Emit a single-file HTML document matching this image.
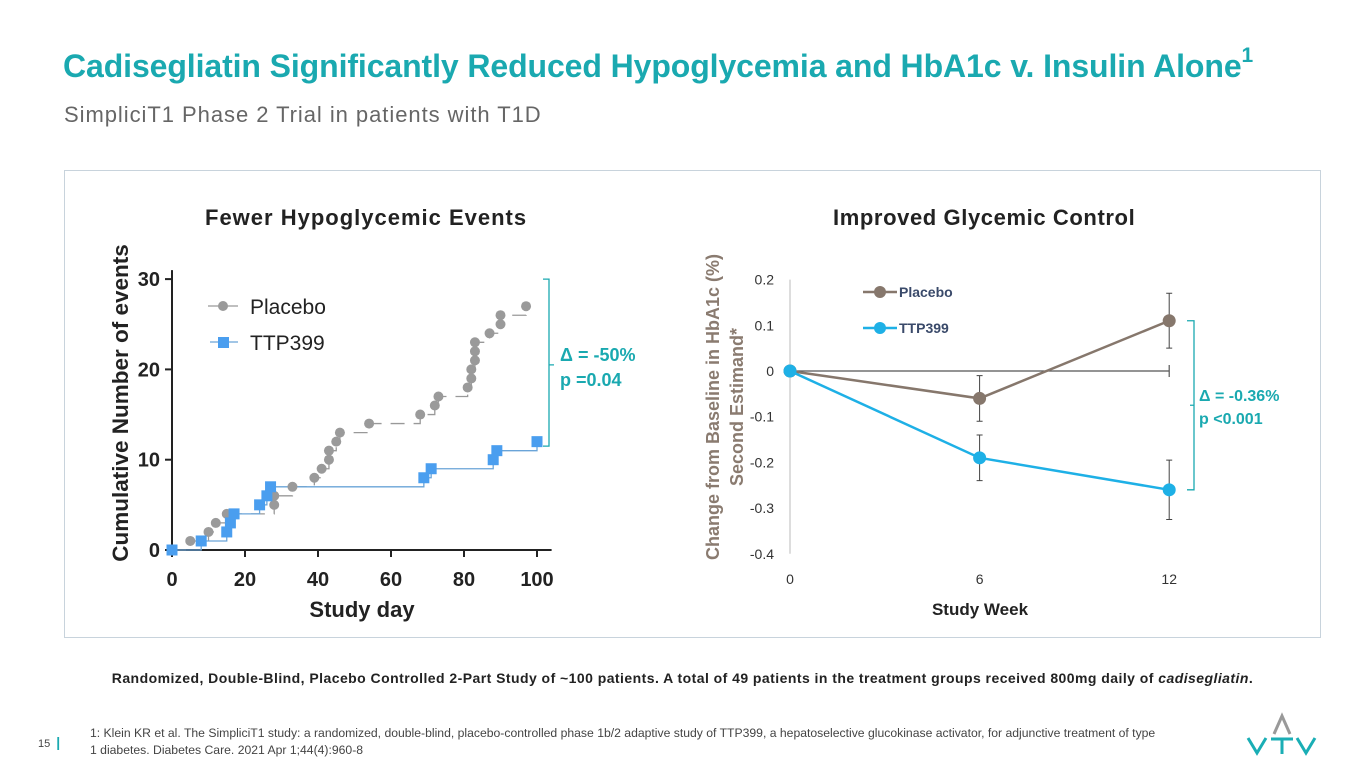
<!DOCTYPE html>
<html><head><meta charset="utf-8"><style>
body{margin:0;width:1365px;height:768px;background:#fff;font-family:"Liberation Sans",sans-serif;position:relative;overflow:hidden}
.abs{position:absolute;white-space:nowrap}
</style></head><body>
<div class="abs" style="left:63px;top:48px;font-size:32px;font-weight:bold;color:#1aa9b0;letter-spacing:-0.1px">Cadisegliatin Significantly Reduced Hypoglycemia and HbA1c v. Insulin Alone<sup style="font-size:21px;position:relative;top:-4px;vertical-align:top">1</sup></div>
<div class="abs" style="left:64px;top:102px;font-size:22px;letter-spacing:0.95px;color:#666">SimpliciT1 Phase 2 Trial in patients with T1D</div>
<div class="abs" style="left:64px;top:170px;width:1255px;height:466px;border:1px solid #c8d3dc"></div>
<div class="abs" style="left:205px;top:205px;font-size:22px;letter-spacing:1px;font-weight:bold;color:#222">Fewer Hypoglycemic Events</div>
<div class="abs" style="left:833px;top:205px;font-size:22px;letter-spacing:0.6px;font-weight:bold;color:#222">Improved Glycemic Control</div>

<svg class="abs" style="left:0;top:0" width="1365" height="768">
<g id="left"></g><g id="right"></g>
</svg>

<div class="abs" style="left:0;width:1365px;text-align:center;top:670px;font-size:14px;letter-spacing:0.45px;font-weight:bold;color:#222">Randomized, Double-Blind, Placebo Controlled 2-Part Study of ~100 patients. A total of 49 patients in the treatment groups received 800mg daily of <i>cadisegliatin</i>.</div>
<div class="abs" style="left:38px;top:734px;font-size:11px;color:#444">15 <span style="color:#1aa9b0;font-weight:bold;font-size:14px;margin-left:3px">|</span></div>
<div class="abs" style="left:90px;top:725px;font-size:12.2px;line-height:17px;color:#444;white-space:normal;width:1120px">1: Klein KR et al. The SimpliciT1 study: a randomized, double-blind, placebo-controlled phase 1b/2 adaptive study of TTP399, a hepatoselective glucokinase activator, for adjunctive treatment of type<br>1 diabetes. Diabetes Care. 2021 Apr 1;44(4):960-8</div>
<svg class="abs" style="left:1244px;top:712px" width="76" height="44">
<path d="M30 22 L38 4 L46 22" fill="none" stroke="#999" stroke-width="3"/>
<path d="M4 26 L13 41 L22 26" fill="none" stroke="#1aaeb5" stroke-width="3"/>
<path d="M27 27 H49 M38 27 V42" fill="none" stroke="#1aaeb5" stroke-width="3"/>
<path d="M53 26 L62 41 L71 26" fill="none" stroke="#1aaeb5" stroke-width="3"/>
</svg>

<script>
const plDays=[0,5,10,12,15,28,28,33,39,41,43,43,45,46,54,68,72,73,81,82,82,83,83,83,87,90,90,97];
const plCounts=[0,1,2,3,4,5,6,7,8,9,10,11,12,13,14,15,16,17,18,19,20,21,22,23,24,25,26,27];
const ttDays=[0,8,15,16,17,24,26,27,69,71,88,89,100];
const ttCounts=[0,1,2,3,4,5,6,7,8,9,10,11,12];
const xTicks=[0,20,40,60,80,100];
const yTicks=[0,10,20,30];
const weeks=[0,6,12];
const hbPlacebo=[0,-0.06,0.11];
const hbPlaceboErr=[0,0.05,0.06];
const hbTTP=[0,-0.19,-0.26];
const hbTTPErr=[0,0.05,0.065];
const hbTicks=[0.2,0.1,0,-0.1,-0.2,-0.3,-0.4];
const NS="http://www.w3.org/2000/svg";
function mk(p,t,a,txt){const e=document.createElementNS(NS,t);for(const k in a)e.setAttribute(k,a[k]);if(txt!=null)e.textContent=txt;p.appendChild(e);return e;}
// left chart
const L=document.getElementById('left');
const lx=d=>172+d*3.65, ly=v=>550-v*9.03;
let e=mk(L,'path',{d:`M${lx(0)} ${ly(31)} V550 H${lx(104)}`,stroke:'#222','stroke-width':2,fill:'none'});

xTicks.forEach(t=>{mk(L,'line',{x1:lx(t),x2:lx(t),y1:550,y2:557,stroke:'#222','stroke-width':2});
 const s=mk(L,'text',{x:lx(t),y:586,'text-anchor':'middle','font-size':20,'font-weight':'bold',fill:'#222'},t);
 });
yTicks.forEach(t=>{mk(L,'line',{x1:165,x2:172,y1:ly(t),y2:ly(t),stroke:'#222','stroke-width':2});
 const s=mk(L,'text',{x:160,y:ly(t)+7,'text-anchor':'end','font-size':20,'font-weight':'bold',fill:'#222'},t);
 });
e=mk(L,'text',{x:362,y:617,'text-anchor':'middle','font-size':22,'font-weight':'bold',fill:'#222'},'Study day');

e=mk(L,'text',{x:0,y:0,transform:'translate(128,403) rotate(-90)','text-anchor':'middle','font-size':22.5,'font-weight':'bold',fill:'#222'},'Cumulative Number of events');

function stepPath(ds,cs){let d=`M${lx(ds[0])} ${ly(cs[0])}`;for(let i=1;i<ds.length;i++){d+=` H${lx(ds[i])} V${ly(cs[i])}`;}return d;}
e=mk(L,'path',{d:stepPath(plDays,plCounts),stroke:'#999','stroke-width':1.3,fill:'none','stroke-dasharray':'14 9'});

e=mk(L,'path',{d:stepPath(ttDays,ttCounts),stroke:'#6aa4d8','stroke-width':1.3,fill:'none'});

plDays.forEach((d,i)=>{if(i==0)return;const c=mk(L,'circle',{cx:lx(d),cy:ly(plCounts[i]),r:5,fill:'#9a9a9a'});
 });
ttDays.forEach((d,i)=>{const r=mk(L,'rect',{x:lx(d)-5.5,y:ly(ttCounts[i])-5.5,width:11,height:11,fill:'#4a9eef'});
 });
// legend
mk(L,'line',{x1:208,x2:238,y1:306,y2:306,stroke:'#999','stroke-width':1.3});mk(L,'circle',{cx:223,cy:306,r:5,fill:'#9a9a9a'});
e=mk(L,'text',{x:250,y:314,'font-size':21,fill:'#222'},'Placebo');
mk(L,'line',{x1:210,x2:238,y1:342,y2:342,stroke:'#6aa4d8','stroke-width':1.3});mk(L,'rect',{x:218,y:337,width:11,height:11,fill:'#4a9eef'});
e=mk(L,'text',{x:250,y:350,'font-size':21,fill:'#222'},'TTP399');
// bracket
mk(L,'path',{d:`M543 ${ly(30)} H549 V${ly(11.5)} H543 M549 ${ly(20.5)} H554`,stroke:'#1aa9b0','stroke-width':1.3,fill:'none'});
e=mk(L,'text',{x:560,y:361,'font-size':18,'font-weight':'bold',fill:'#1aa9b0'},'Δ = -50%');
mk(L,'text',{x:560,y:386,'font-size':18,'font-weight':'bold',fill:'#1aa9b0'},'p =0.04');
// right chart
const R=document.getElementById('right');
const rx=w=>790+w*31.6, ry=v=>371-v*457;
mk(R,'line',{x1:790,x2:790,y1:ry(0.2),y2:ry(-0.4),stroke:'#bbb','stroke-width':1});
mk(R,'line',{x1:790,x2:rx(12),y1:ry(0),y2:ry(0),stroke:'#555','stroke-width':1.2});
mk(R,'line',{x1:rx(12),x2:rx(12),y1:ry(0)-6,y2:ry(0)+6,stroke:'#555','stroke-width':1.2});
hbTicks.forEach(t=>{const s=mk(R,'text',{x:774,y:ry(t)+5,'text-anchor':'end','font-size':14,fill:'#333'},t);
 });
weeks.forEach(w=>{const s=mk(R,'text',{x:rx(w),y:584,'text-anchor':'middle','font-size':14,fill:'#333'},w);
 });
e=mk(R,'text',{x:980,y:615,'text-anchor':'middle','font-size':17,'font-weight':'bold',fill:'#222'},'Study Week');

e=mk(R,'text',{x:0,y:0,transform:'translate(719,407) rotate(-90)','text-anchor':'middle','font-size':18,'font-weight':'bold',fill:'#8a7b70'},'Change from Baseline in HbA1c (%)');

e=mk(R,'text',{x:0,y:0,transform:'translate(743,407) rotate(-90)','text-anchor':'middle','font-size':18,'font-weight':'bold',fill:'#8a7b70'},'Second Estimand*');
function series(vals,errs,col,name){
 vals.forEach((v,i)=>{if(!errs[i])return;const x=rx(weeks[i]);
  mk(R,'path',{d:`M${x} ${ry(v+errs[i])} V${ry(v-errs[i])} M${x-3} ${ry(v+errs[i])} H${x+3} M${x-3} ${ry(v-errs[i])} H${x+3}`,stroke:'#444','stroke-width':1,fill:'none'});});
 const l=mk(R,'polyline',{points:vals.map((v,i)=>rx(weeks[i])+','+ry(v)).join(' '),stroke:col,'stroke-width':2.5,fill:'none'});
 
 vals.forEach((v,i)=>{const c=mk(R,'circle',{cx:rx(weeks[i]),cy:ry(v),r:6.5,fill:col});
  });
}
series(hbPlacebo,hbPlaceboErr,'#86776c','placebo-hba1c');
series(hbTTP,hbTTPErr,'#1eb0e6','ttp399-hba1c');
mk(R,'line',{x1:863,x2:897,y1:292,y2:292,stroke:'#86776c','stroke-width':2.5});mk(R,'circle',{cx:880,cy:292,r:6,fill:'#86776c'});
e=mk(R,'text',{x:899,y:297,'font-size':14,'font-weight':'bold',fill:'#3a4a6a'},'Placebo');
mk(R,'line',{x1:863,x2:897,y1:328,y2:328,stroke:'#1eb0e6','stroke-width':2.5});mk(R,'circle',{cx:880,cy:328,r:6,fill:'#1eb0e6'});
e=mk(R,'text',{x:899,y:333,'font-size':14,'font-weight':'bold',fill:'#3a4a6a'},'TTP399');
mk(R,'path',{d:`M1187 ${ry(0.11)} H1194 V${ry(-0.26)} H1187 M1194 ${ry(-0.075)} H1190`,stroke:'#1aa9b0','stroke-width':1.3,fill:'none'});
e=mk(R,'text',{x:1199,y:401,'font-size':16,'font-weight':'bold',fill:'#1aa9b0'},'Δ = -0.36%');
mk(R,'text',{x:1199,y:424,'font-size':16,'font-weight':'bold',fill:'#1aa9b0'},'p <0.001');
</script>
</body></html>
